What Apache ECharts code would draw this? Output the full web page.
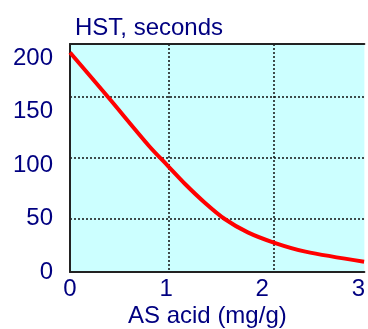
<!DOCTYPE html>
<html>
<head>
<meta charset="utf-8">
<script src="https://cdn.jsdelivr.net/npm/echarts@6/dist/echarts.min.js"></script>
<style>
  html, body { margin: 0; padding: 0; background: #ffffff; }
  #chart { width: 368px; height: 329px; }
</style>
</head>
<body>
<div id="chart"></div>
<script>
// AS acid dose (mg/g) and the measured HST (seconds)
const asAcid = [0, 0.40, 0.82, 1.02, 1.20, 1.40, 1.61, 1.85, 2.12, 2.45, 3.06];
const hstSeconds = [205, 163, 118, 99, 82, 65, 49.5, 37, 27.5, 19, 9.6];

// Tick labels on each axis
const xTickLabels = [0, 1, 2, 3];
const yTickLabels = [0, 50, 100, 150, 200];

// Dotted reference lines inside the plot
const gridX = [1.023, 2.117];
const gridY = [49.5, 106.5, 163.3];

const navy = '#000080';
const font = 'Liberation Sans, Arial, sans-serif';
const frame = { show: true, lineStyle: { color: '#222222', width: 2 } };
const dotted = { show: true, lineStyle: { color: '#111111', width: 1.5, type: [2, 2] } };

const chart = echarts.init(document.getElementById('chart'), null, { renderer: 'canvas' });

chart.setOption({
  animation: false,
  title: [
    { text: 'HST, seconds', left: 70, top: 11,
      textStyle: { color: navy, fontFamily: font, fontSize: 24, fontWeight: 'normal' } },
    { text: 'AS acid (mg/g)', left: 123, top: 299,
      textStyle: { color: navy, fontFamily: font, fontSize: 24, fontWeight: 'normal' } }
  ],
  grid: {
    left: 70, top: 44, right: 0, height: 228,
    show: true, backgroundColor: '#ccffff', borderWidth: 0
  },
  xAxis: [{
    type: 'value', min: 0, max: 3.063, position: 'bottom',
    axisLine: frame,
    axisTick: { show: false, customValues: gridX },
    axisLabel: {
      customValues: xTickLabels, margin: 5,
      color: navy, fontFamily: font, fontSize: 24
    },
    splitLine: dotted
  }, {
    // upper edge of the plot frame
    type: 'value', min: 0, max: 3.063, position: 'top',
    axisLine: frame,
    axisTick: { show: false },
    axisLabel: { show: false },
    splitLine: { show: false }
  }],
  yAxis: {
    type: 'value', min: 0, max: 213,
    axisLine: frame,
    axisTick: { show: false, customValues: gridY },
    axisLabel: {
      customValues: yTickLabels, margin: 17,
      color: navy, fontFamily: font, fontSize: 24
    },
    splitLine: dotted
  },
  series: [{
    type: 'line',
    data: asAcid.map((x, i) => [x, hstSeconds[i]]),
    smooth: 0.3,
    showSymbol: false,
    clip: true,
    lineStyle: { color: '#ff0000', width: 4 }
  }]
});
</script>
</body>
</html>
